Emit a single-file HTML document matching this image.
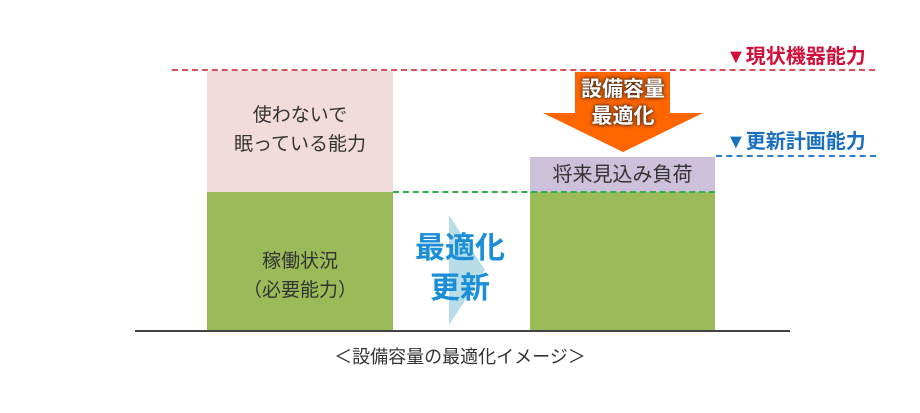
<!DOCTYPE html>
<html><head><meta charset="utf-8"><style>
body{margin:0;width:920px;height:413px;background:#fff;position:relative;overflow:hidden;font-family:"Liberation Sans","Noto Sans CJK JP",sans-serif}
.a{position:absolute}
.t{position:absolute;text-align:center;color:#333;white-space:nowrap}
</style></head><body>
<div class="a" style="left:207px;top:71px;width:186px;height:121px;background:#f2dcdb"></div>
<div class="a" style="left:207px;top:192px;width:186px;height:139px;background:#9bbb59"></div>
<div class="a" style="left:530px;top:157px;width:185px;height:35px;background:#ccc0da"></div>
<div class="a" style="left:530px;top:192px;width:185px;height:139px;background:#9bbb59"></div>
<div class="a" style="left:135px;top:330px;width:655px;height:2px;background:#444"></div>
<div class="a" style="left:172px;top:69px;width:703px;border-top:2px dashed #d9505a"></div>
<div class="a" style="left:393px;top:191px;width:322px;border-top:2px dashed #2fb04f"></div>
<div class="a" style="left:716px;top:155px;width:160px;border-top:2px dashed #2e7bd0"></div>
<svg class="a" style="left:0;top:0" width="920" height="413">
<polygon points="575,72 670,72 670,113 703,113 623,152 543,113 575,113" fill="#ff6600"/>
<polygon points="449,215 485,270 449,325" fill="#b7dde8"/>
</svg>
<div class="t" style="left:207px;top:101px;width:186px;font-size:19px;line-height:29px">使わないで<br>眠っている能力</div>
<div class="t" style="left:207px;top:247px;width:186px;font-size:19px;line-height:29px">稼働状況<br>（必要能力）</div>
<div class="t" style="left:530px;top:161px;width:185px;font-size:20px;line-height:28px">将来見込み負荷</div>
<div class="t" style="left:553px;top:76px;width:140px;font-size:21px;line-height:27px;font-weight:bold;color:#fff;text-shadow:0 0 4px #4a2a1a,0 0 3px #4a2a1a">設備容量<br>最適化</div>
<div class="t" style="left:400px;top:229px;width:120px;font-size:30px;line-height:40px;font-weight:bold;color:#1a8fd8">最適化<br>更新</div>
<div class="t" style="left:726px;top:40px;width:160px;text-align:left;font-size:20px;font-weight:bold;color:#d0103a">▼現状機器能力</div>
<div class="t" style="left:726px;top:125px;width:160px;text-align:left;font-size:20px;font-weight:bold;color:#1a6fc0">▼更新計画能力</div>
<div class="t" style="left:260px;top:343px;width:400px;font-size:18px;color:#333">＜設備容量の最適化イメージ＞</div>
</body></html>
